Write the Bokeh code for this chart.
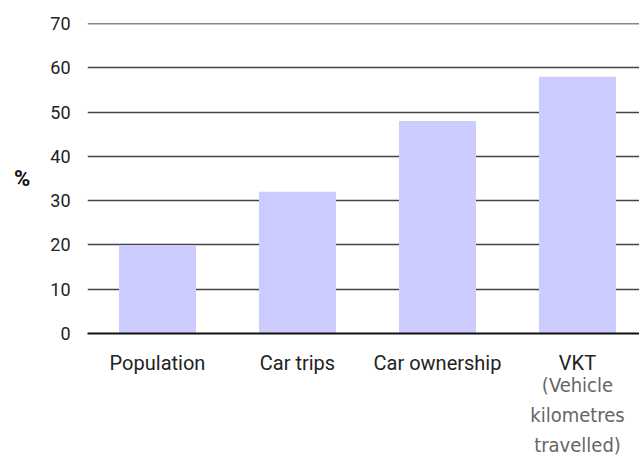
from bokeh.plotting import figure
from bokeh.models import FixedTicker, LinearAxis, Range1d, Span
from bokeh.embed import file_html
from bokeh.resources import INLINE

categories = ["Population", "Car trips", "Car ownership", "VKT"]
values = [20, 32, 48, 58]
subtitles = ["", "", "", "(Vehicle\nkilometres\ntravelled)"]
y_ticks = [0, 10, 20, 30, 40, 50, 60, 70]

xs = list(range(len(categories)))

p = figure(width=639, height=459, output_backend="svg", toolbar_location=None,
           x_range=Range1d(-0.5, 3.443), y_range=Range1d(0, 70),
           min_border_left=87, min_border_right=0, min_border_top=23,
           min_border_bottom=126, outline_line_color=None)

p.vbar(x=xs, top=values, width=0.55, fill_color="#ccccff", line_color=None)

# axes
p.xaxis.ticker = FixedTicker(ticks=xs)
p.xaxis.major_label_overrides = {i: c for i, c in zip(xs, categories)}
p.xaxis.major_tick_line_color = None
p.xaxis.minor_tick_line_color = None
p.xaxis.axis_line_color = "#111111"
p.xaxis.axis_line_width = 2
p.xaxis.major_label_text_font = "Roboto"
p.xaxis.major_label_text_font_size = "20px"
p.xaxis.major_label_text_color = "#222222"
p.xaxis.major_label_text_font_style = "normal"
p.xaxis.major_label_standoff = 11

sub_axis = LinearAxis(ticker=FixedTicker(ticks=[xs[3]]),
                      major_label_overrides={i: s for i, s in zip(xs, subtitles) if s},
                      major_tick_line_color=None, minor_tick_line_color=None,
                      axis_line_color=None, major_label_standoff=-11,
                      major_label_text_font="DejaVu Sans Condensed",
                      major_label_text_font_size="20px",
                      major_label_text_color="#666666",
                      major_label_text_line_height=1.25)
p.add_layout(sub_axis, "below")

p.yaxis.ticker = FixedTicker(ticks=y_ticks)
p.yaxis.major_tick_line_color = None
p.yaxis.minor_tick_line_color = None
p.yaxis.axis_line_color = None
p.yaxis.major_label_text_font = "Roboto"
p.yaxis.major_label_text_font_size = "18px"
p.yaxis.major_label_text_color = "#222222"
p.yaxis.major_label_standoff = 11
p.yaxis.axis_label = "%"
p.yaxis.axis_label_orientation = "horizontal"
p.yaxis.axis_label_text_font = "Roboto"
p.yaxis.axis_label_text_font_style = "bold"
p.yaxis.axis_label_text_font_size = "22px"
p.yaxis.axis_label_text_color = "#111111"
p.yaxis.axis_label_standoff = 17

p.xgrid.grid_line_color = None
p.ygrid.ticker = FixedTicker(ticks=y_ticks)
p.ygrid.grid_line_color = "#444444"
p.ygrid.grid_line_width = 1.5
p.ygrid.level = "underlay"

top = Span(location=70, dimension="width", line_color="#111111", line_width=1.5)
p.add_layout(top)

html = file_html(p, INLINE)
open("out.html", "w").write(html)
